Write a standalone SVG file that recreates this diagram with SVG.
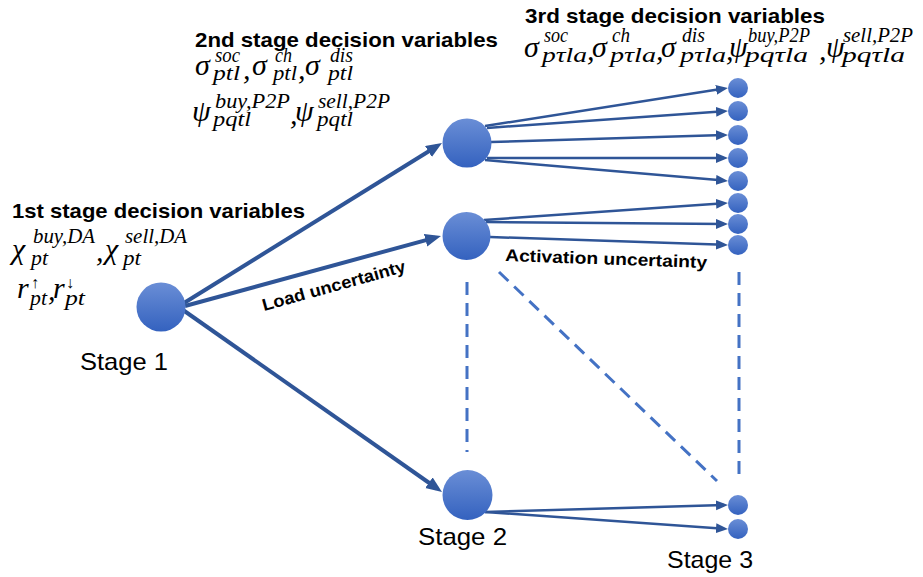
<svg xmlns="http://www.w3.org/2000/svg" width="923" height="577" viewBox="0 0 923 577">
<defs>
<linearGradient id="g" x1="0" y1="0" x2="0" y2="1">
<stop offset="0" stop-color="#6A8ED6"/>
<stop offset="1" stop-color="#3462BF"/>
</linearGradient>
<marker id="ah" markerUnits="userSpaceOnUse" markerWidth="18" markerHeight="14" refX="10" refY="6.5" orient="auto">
<path d="M0,0 L16,6.5 L0,13 z" fill="#2F5597"/>
</marker>
<marker id="as" markerUnits="userSpaceOnUse" markerWidth="14" markerHeight="11" refX="8" refY="5" orient="auto">
<path d="M0,0 L12,5 L0,10 z" fill="#2F5597"/>
</marker>
</defs>
<style>
.t{font-family:"Liberation Sans",Arial,sans-serif;font-weight:bold;font-size:21px;fill:#000}
.lbl{font-family:"Liberation Sans",Arial,sans-serif;font-size:24px;fill:#000}
.u{font-family:"Liberation Sans",Arial,sans-serif;font-weight:bold;font-size:17px;fill:#000}
.m{font-family:"Liberation Serif","DejaVu Serif",serif;font-style:italic;font-size:30px;fill:#000}
.s{font-family:"Liberation Serif","DejaVu Serif",serif;font-style:italic;font-size:22px;fill:#000}
.ar{font-family:"Liberation Serif","DejaVu Serif",serif;font-size:16px;fill:#000}
.node{fill:url(#g)}
.thick{stroke:#2F5597;stroke-width:4;fill:none;marker-end:url(#ah)}
.thin{stroke:#2F5597;stroke-width:2.5;fill:none;marker-end:url(#as)}
.dash{stroke:#4472C4;stroke-width:3;stroke-dasharray:13 8;fill:none}
</style>
<rect width="923" height="577" fill="#fff"/>

<g id="connectors">
<line class="thick" x1="184" y1="303" x2="436.9" y2="146.2"/>
<line class="thick" x1="185" y1="306" x2="435.2" y2="237.6"/>
<line class="thick" x1="183" y1="310" x2="437.1" y2="488.5"/>
<line class="thin" x1="485" y1="126" x2="724" y2="88.6"/>
<line class="thin" x1="487" y1="128" x2="724" y2="111.2"/>
<line class="thin" x1="491" y1="142" x2="724" y2="135"/>
<line class="thin" x1="487" y1="158" x2="724" y2="158"/>
<line class="thin" x1="485" y1="160" x2="724" y2="180.6"/>
<line class="thin" x1="484" y1="220" x2="724" y2="203.3"/>
<line class="thin" x1="486" y1="222" x2="724" y2="224"/>
<line class="thin" x1="490" y1="237" x2="724" y2="244.8"/>
<line class="thin" x1="485" y1="512" x2="724" y2="505.1"/>
<line class="thin" x1="485" y1="512" x2="724" y2="528.7"/>
<line class="dash" x1="467" y1="282" x2="467" y2="452"/>
<line class="dash" x1="499" y1="272" x2="717" y2="481"/>
<line class="dash" x1="739" y1="272" x2="739" y2="481"/>
</g>

<g id="stage1">
<circle class="node" cx="161" cy="307" r="24.5"/>
<text class="lbl" x="80" y="370" textLength="88" lengthAdjust="spacingAndGlyphs">Stage 1</text>
</g>
<g id="stage2-top"><circle class="node" cx="467" cy="143" r="24.5"/></g>
<g id="stage2-mid"><circle class="node" cx="466.5" cy="236" r="24"/></g>
<g id="stage2-bot">
<circle class="node" cx="467.5" cy="495" r="25"/>
<text class="lbl" x="418" y="545" textLength="89" lengthAdjust="spacingAndGlyphs">Stage 2</text>
</g>
<g id="stage3">
<circle class="node" cx="738" cy="88" r="10"/>
<circle class="node" cx="738" cy="111" r="10"/>
<circle class="node" cx="738" cy="135" r="10"/>
<circle class="node" cx="738" cy="158" r="10"/>
<circle class="node" cx="738" cy="181" r="10"/>
<circle class="node" cx="738" cy="203" r="10"/>
<circle class="node" cx="738" cy="224" r="10"/>
<circle class="node" cx="738" cy="245" r="10"/>
<circle class="node" cx="738" cy="505" r="10"/>
<circle class="node" cx="738" cy="529" r="10"/>
<text class="lbl" x="667" y="568" textLength="86" lengthAdjust="spacingAndGlyphs">Stage 3</text>
</g>

<g id="edge-labels">
<text class="u" transform="translate(264,311) rotate(-15.5)" textLength="148" lengthAdjust="spacingAndGlyphs">Load uncertainty</text>
<text class="u" font-size="18" transform="translate(505,261) rotate(2)" textLength="202" lengthAdjust="spacingAndGlyphs">Activation uncertainty</text>
</g>

<g id="vars-stage1">
<text class="t" x="12" y="218" textLength="293" lengthAdjust="spacingAndGlyphs">1st stage decision variables</text>
<text class="m" x="12" y="259">χ</text>
<text class="s" x="33" y="243" textLength="62" lengthAdjust="spacingAndGlyphs">buy,DA</text>
<text class="s" x="31" y="265" textLength="17" lengthAdjust="spacingAndGlyphs">pt</text>
<text class="m" x="96" y="261">,</text>
<text class="m" x="105" y="259">χ</text>
<text class="s" x="125" y="243" textLength="62" lengthAdjust="spacingAndGlyphs">sell,DA</text>
<text class="s" x="123" y="265" textLength="18" lengthAdjust="spacingAndGlyphs">pt</text>
<text class="m" x="17" y="298">r</text>
<text class="ar" x="31" y="288">↑</text>
<text class="s" x="30" y="305" textLength="17" lengthAdjust="spacingAndGlyphs">pt</text>
<text class="m" x="48" y="300">,</text>
<text class="m" x="53" y="298">r</text>
<text class="ar" x="66" y="288">↓</text>
<text class="s" x="65" y="305" textLength="20" lengthAdjust="spacingAndGlyphs">pt</text>
</g>

<g id="vars-stage2">
<text class="t" x="195" y="47" textLength="303" lengthAdjust="spacingAndGlyphs">2nd stage decision variables</text>
<text class="m" x="195" y="75">σ</text>
<text class="s" x="215" y="62" textLength="25" lengthAdjust="spacingAndGlyphs">soc</text>
<text class="s" x="213" y="80" textLength="27" lengthAdjust="spacingAndGlyphs">ptl</text>
<text class="m" x="243" y="79">,</text>
<text class="m" x="252" y="75">σ</text>
<text class="s" x="275" y="62" textLength="17" lengthAdjust="spacingAndGlyphs">ch</text>
<text class="s" x="273" y="80" textLength="24" lengthAdjust="spacingAndGlyphs">ptl</text>
<text class="m" x="298" y="79">,</text>
<text class="m" x="305" y="75">σ</text>
<text class="s" x="330" y="62" textLength="23" lengthAdjust="spacingAndGlyphs">dis</text>
<text class="s" x="328" y="80" textLength="25" lengthAdjust="spacingAndGlyphs">ptl</text>
<text class="m" x="192" y="121">ψ</text>
<text class="s" x="215" y="108" textLength="75" lengthAdjust="spacingAndGlyphs">buy,P2P</text>
<text class="s" x="213" y="126" textLength="38" lengthAdjust="spacingAndGlyphs">pqtl</text>
<text class="m" x="290" y="124">,</text>
<text class="m" x="295" y="121">ψ</text>
<text class="s" x="318" y="108" textLength="72" lengthAdjust="spacingAndGlyphs">sell,P2P</text>
<text class="s" x="317" y="126" textLength="36" lengthAdjust="spacingAndGlyphs">pqtl</text>
</g>

<g id="vars-stage3">
<text class="t" x="525" y="23" textLength="300" lengthAdjust="spacingAndGlyphs">3rd stage decision variables</text>
<text class="m" x="524" y="57">σ</text>
<text class="s" x="544" y="42" textLength="24" lengthAdjust="spacingAndGlyphs">soc</text>
<text class="s" x="542" y="62" textLength="45" lengthAdjust="spacingAndGlyphs">pτla</text>
<text class="m" x="587" y="60">,</text>
<text class="m" x="592" y="57">σ</text>
<text class="s" x="612" y="42" textLength="18" lengthAdjust="spacingAndGlyphs">ch</text>
<text class="s" x="610" y="62" textLength="46" lengthAdjust="spacingAndGlyphs">pτla</text>
<text class="m" x="656" y="60">,</text>
<text class="m" x="661" y="57">σ</text>
<text class="s" x="682" y="42" textLength="23" lengthAdjust="spacingAndGlyphs">dis</text>
<text class="s" x="680" y="62" textLength="46" lengthAdjust="spacingAndGlyphs">pτla</text>
<text class="m" x="726" y="60">,</text>
<text class="m" x="729" y="57">ψ</text>
<text class="s" x="748" y="42" textLength="62" lengthAdjust="spacingAndGlyphs">buy,P2P</text>
<text class="s" x="745" y="62" textLength="63" lengthAdjust="spacingAndGlyphs">pqτla</text>
<text class="m" x="819" y="60">,</text>
<text class="m" x="826" y="57">ψ</text>
<text class="s" x="843" y="42" textLength="70" lengthAdjust="spacingAndGlyphs">sell,P2P</text>
<text class="s" x="842" y="62" textLength="63" lengthAdjust="spacingAndGlyphs">pqτla</text>
</g>
</svg>
